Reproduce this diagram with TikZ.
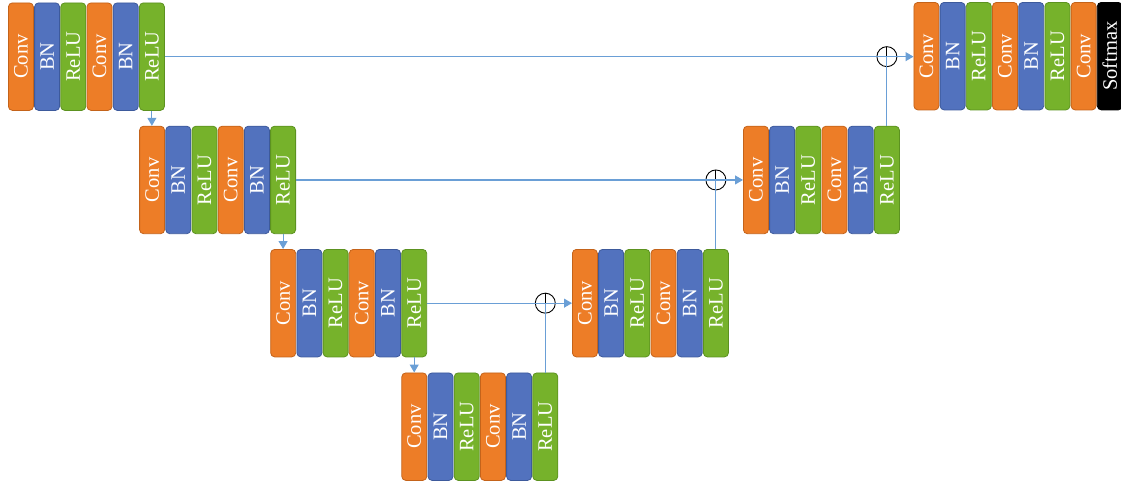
\documentclass[tikz,border=0pt]{standalone}
\usepackage{graphicx}
\usepackage{fontspec}
\setmainfont{Liberation Serif}
\usetikzlibrary{arrows.meta}
\definecolor{cconv}{HTML}{ED7D27}
\definecolor{cconvd}{HTML}{C4631A}
\definecolor{cbn}{HTML}{5272BE}
\definecolor{cbnd}{HTML}{3D5A9C}
\definecolor{crelu}{HTML}{76B22B}
\definecolor{crelud}{HTML}{5C9220}
\definecolor{csmax}{HTML}{000000}
\definecolor{csmaxd}{HTML}{000000}
\definecolor{cline}{HTML}{6A9FD6}
\def\lblconv{Conv}
\def\lblbn{BN}
\def\lblrelu{ReLU}
\def\lblsmax{Softmax}
\tikzset{
  layer/.style={rounded corners=4pt, minimum width=25pt, minimum height=107.5pt,
    inner sep=0pt, text=white, font=\fontsize{20.5}{20.5}\selectfont,
    line width=0.8pt, anchor=north west},
  mybox/.style={layer, fill=c#1, draw=c#1d},
  link/.style={draw=cline, line width=1.1pt},
  arr/.style={link, -{Triangle[length=8pt,width=9pt]}},
  sum/.style={circle, draw=black, line width=0.9pt, minimum size=20pt, inner sep=0pt,
    path picture={\draw[black, line width=0.9pt]
      (path picture bounding box.north) -- (path picture bounding box.south)
      (path picture bounding box.west) -- (path picture bounding box.east);}}
}
\newcommand\blockrow[4]{%
  \foreach \t [count=\i] in {#4} {
    \node[mybox=\t] (#1-\i) at ({#2+(\i-1)*26.2},{-#3}) {\rotatebox{90}{\csname lbl\t\endcsname}};
  }%
}
\begin{document}
\begin{tikzpicture}[x=1pt,y=1pt]
\useasboundingbox (0,0) rectangle (1121,-485);
\blockrow{e1}{8}{2.5}{conv,bn,relu,conv,bn,relu}
\blockrow{e2}{139.2}{125.8}{conv,bn,relu,conv,bn,relu}
\blockrow{e3}{270.3}{249}{conv,bn,relu,conv,bn,relu}
\blockrow{e4}{401.4}{372.5}{conv,bn,relu,conv,bn,relu}
\blockrow{d3}{572}{249}{conv,bn,relu,conv,bn,relu}
\blockrow{d2}{743}{125.8}{conv,bn,relu,conv,bn,relu}
\blockrow{d1}{913.5}{2}{conv,bn,relu,conv,bn,relu,conv,smax}
% sums
\node[sum] (s1) at (d2-6.north |- e1-6.east) {};
\node[sum] (s2) at (d3-6.north |- e2-6.east) {};
\node[sum] (s3) at (e4-6.north |- e3-6.east) {};
% down arrows
\draw[arr] (e1-6.south) -- (e1-6.south |- e2-1.north);
\draw[arr] (e2-6.south) -- (e2-6.south |- e3-1.north);
\draw[arr] (e3-6.south) -- (e3-6.south |- e4-1.north);
% skips
\draw[arr] (e1-6.east) -- (e1-6.east -| d1-1.west);
\draw[arr] (e2-6.east) -- (e2-6.east -| d2-1.west);
\draw[arr] (e3-6.east) -- (e3-6.east -| d3-1.west);
% up links
\draw[link] (d2-6.north) -- (s1.center);
\draw[link] (d3-6.north) -- (s2.center);
\draw[link] (e4-6.north) -- (s3.center);
\end{tikzpicture}
\end{document}
